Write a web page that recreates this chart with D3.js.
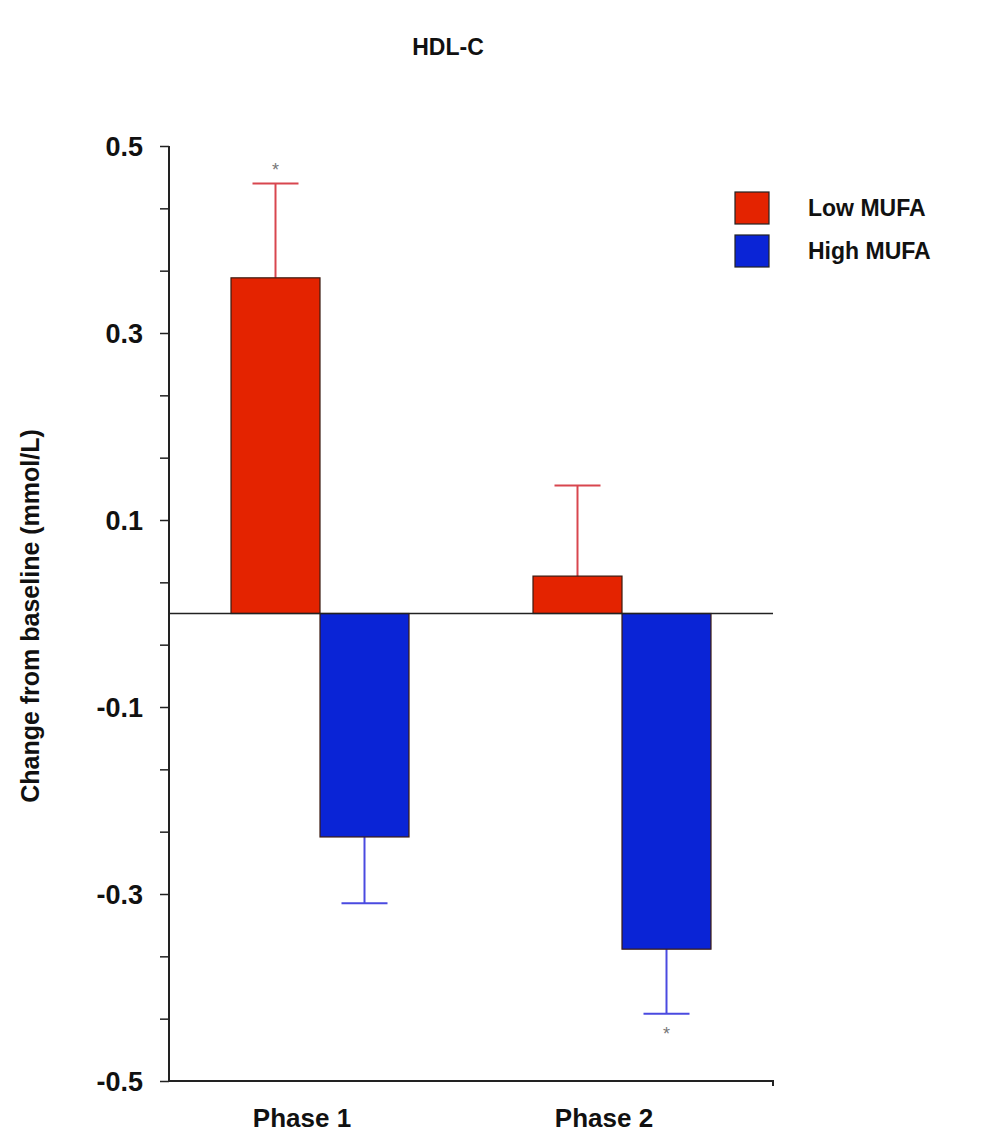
<!DOCTYPE html>
<html>
<head>
<meta charset="utf-8">
<script src="https://cdn.jsdelivr.net/npm/d3@7"></script>
<style>
  body { margin: 0; background: #fff; }
  svg { font-family: "Liberation Sans", Arial, Helvetica, sans-serif; font-weight: bold; }
</style>
</head>
<body>
<svg width="995" height="1138"></svg>
<script>
var phases = ['Phase 1', 'Phase 2'];
var series = ['Low MUFA', 'High MUFA'];
var lowMufa = [0.359, 0.040];
var highMufa = [-0.239, -0.359];
var lowMufaErr = [0.101, 0.097];
var highMufaErr = [0.071, 0.069];
var lowMufaStar = [true, false];
var highMufaStar = [false, true];
var yTicks = [0.5, 0.3, 0.1, -0.1, -0.3, -0.5];

var colors = { 'Low MUFA': '#e42300', 'High MUFA': '#0a24d6' };
var errColors = { 'Low MUFA': '#d8464f', 'High MUFA': '#4a4ae0' };

var svg = d3.select('svg');

var items = [];
phases.forEach(function(p, i) {
    items.push({ phase: p, series: 'Low MUFA', value: lowMufa[i], err: lowMufaErr[i], star: lowMufaStar[i] });
    items.push({ phase: p, series: 'High MUFA', value: highMufa[i], err: highMufaErr[i], star: highMufaStar[i] });
});

var left = 169, right = 773;
var y = d3.scaleLinear().domain([-0.5, 0.5]).range([1081, 146]);
var x = d3.scaleBand().domain(phases).range([left, right]);
var xs = d3.scaleBand().domain(series).range([-89, 89]);

// title
svg.append('text')
    .attr('x', 448).attr('y', 55)
    .attr('text-anchor', 'middle')
    .attr('font-size', 23)
    .attr('fill', '#111')
    .text('HDL-C');

// y axis with minor ticks every 0.2/3
var minor = d3.range(0, 16).map(function(i) { return -0.5 + i * 0.2 / 3; });
var yAxis = d3.axisLeft(y).tickValues(minor).tickSize(9).tickFormat('');
var gy = svg.append('g')
    .attr('transform', 'translate(' + left + ',0)')
    .call(yAxis);
gy.select('.domain').attr('d', 'M0,' + y(0.5) + 'V' + y(-0.5)).attr('stroke', '#222').attr('stroke-width', 2);
gy.selectAll('.tick line').attr('stroke', '#222').attr('stroke-width', 1.5);

svg.append('g').selectAll('text')
    .data(yTicks).enter()
    .append('text')
    .attr('x', left - 26)
    .attr('y', function(d) { return y(d); })
    .attr('dy', '0.36em')
    .attr('text-anchor', 'end')
    .attr('font-size', 27)
    .attr('fill', '#111')
    .text(function(d) { return d.toFixed(1); });

// y label
svg.append('text')
    .attr('transform', 'translate(39,' + 616 + ') rotate(-90)')
    .attr('text-anchor', 'middle')
    .attr('font-size', 25)
    .attr('fill', '#111')
    .text('Change from baseline (mmol/L)');

// x axis line
var gx = svg.append('g');
gx.append('path')
    .attr('d', 'M' + left + ',' + y(-0.5) + 'H' + right + 'v5')
    .attr('fill', 'none').attr('stroke', '#222').attr('stroke-width', 2);

gx.selectAll('text')
    .data(phases).enter()
    .append('text')
    .attr('x', function(d) { return x(d) + x.bandwidth() / 2 - 18; })
    .attr('y', 1127)
    .attr('text-anchor', 'middle')
    .attr('font-size', 26)
    .attr('fill', '#111')
    .text(function(d) { return d; });

// error bars
var errs = svg.append('g');
items.forEach(function(d) {
    var cx = x(d.phase) + x.bandwidth() / 2 + xs(d.series) + xs.bandwidth() / 2;
    var end = d.value >= 0 ? d.value + d.err : d.value - d.err;
    errs.append('line')
        .attr('x1', cx).attr('x2', cx)
        .attr('y1', y(d.value)).attr('y2', y(end))
        .attr('stroke', errColors[d.series]).attr('stroke-width', 2);
    errs.append('line')
        .attr('x1', cx - 23).attr('x2', cx + 23)
        .attr('y1', y(end)).attr('y2', y(end))
        .attr('stroke', errColors[d.series]).attr('stroke-width', 2);
    if (d.star) {
        errs.append('text')
            .attr('x', cx)
            .attr('y', y(end) + (d.value >= 0 ? -7 : 26))
            .attr('text-anchor', 'middle')
            .attr('font-size', 18)
            .attr('font-weight', 'normal')
            .attr('fill', '#777')
            .text('*');
    }
});

// bars
svg.append('g').selectAll('rect')
    .data(items).enter()
    .append('rect')
    .attr('x', function(d) { return x(d.phase) + x.bandwidth() / 2 + xs(d.series); })
    .attr('width', xs.bandwidth())
    .attr('y', function(d) { return y(Math.max(0, d.value)); })
    .attr('height', function(d) { return Math.abs(y(d.value) - y(0)); })
    .attr('fill', function(d) { return colors[d.series]; })
    .attr('stroke', '#3a1a10')
    .attr('stroke-width', 1.2);

// zero line
svg.append('line')
    .attr('x1', left).attr('x2', right)
    .attr('y1', y(0)).attr('y2', y(0))
    .attr('stroke', '#222').attr('stroke-width', 1.5);

// legend
var legend = svg.append('g').selectAll('g')
    .data(series).enter()
    .append('g')
    .attr('transform', function(d, i) { return 'translate(735,' + (192 + i * 43) + ')'; });
legend.append('rect')
    .attr('width', 34).attr('height', 32)
    .attr('fill', function(d) { return colors[d]; })
    .attr('stroke', '#222').attr('stroke-width', 1.2);
legend.append('text')
    .attr('x', 73).attr('y', 16)
    .attr('dy', '0.36em')
    .attr('font-size', 23)
    .attr('fill', '#111')
    .text(function(d) { return d; });
</script>
</body>
</html>
